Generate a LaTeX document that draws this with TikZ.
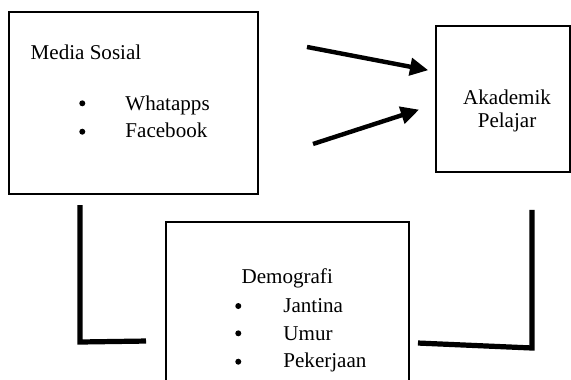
\documentclass[tikz,border=0pt]{standalone}
\usepackage{fontspec}
\setmainfont{Liberation Serif}
\usetikzlibrary{arrows.meta,positioning}

\tikzset{
  box/.style={draw, line width=0.9pt, inner sep=0pt},
  txt/.style={inner sep=0pt, font=\fontsize{10.5}{12}\selectfont},
  dot/.style={circle, fill, inner sep=0pt, minimum size=0.105cm},
  bar/.style={line width=2.6pt},
  push/.style={line width=2.2pt, -{Triangle[length=0.32cm, width=0.3cm]}}
}

\begin{document}
\begin{tikzpicture}
    \clip (0,0) rectangle (10,6.6375);

    % the three boxes
    \node[box, minimum width=4.36cm, minimum height=3.19cm] (media) at (2.338,4.834) {};
    \node[box, minimum width=2.34cm, minimum height=2.56cm] (akademik) at (8.808,4.904) {};
    \node[box, minimum width=4.26cm, minimum height=3.25cm] (demografi) at (5.035,1.125) {};

    % Media Sosial
    \node[txt, anchor=base west] at (0.53,5.59) {Media Sosial};
    \node[dot] at (1.441,4.828) {};
    \node[txt, anchor=base west] at (2.19,4.711) {Whatapps};
    \node[dot] at (1.441,4.331) {};
    \node[txt, anchor=base west] at (2.19,4.228) {Facebook};

    % Akademik Pelajar
    \node[txt, anchor=base] at (8.88,4.816) {Akademik};
    \node[txt, anchor=base] at (8.88,4.396) {Pelajar};

    % Demografi
    \node[txt, anchor=base] at (5.03,1.664) {Demografi};
    \node[dot] at (4.173,1.278) {};
    \node[txt, anchor=base west] at (4.956,1.168) {Jantina};
    \node[dot] at (4.173,0.800) {};
    \node[txt, anchor=base west] at (4.956,0.683) {Umur};
    \node[dot] at (4.173,0.303) {};
    \node[txt, anchor=base west] at (4.956,0.200) {Pekerjaan};

    % arrows into Akademik
    \coordinate (a1) at (5.376,5.815);
    \coordinate (a2) at (5.482,4.116);
    \coordinate (t1) at (7.50,5.408);
    \coordinate (t2) at (7.34,4.718);
    \draw[push] (a1) -- (t1);
    \draw[push] (a2) -- (t2);

    % the two brackets under the boxes
    \coordinate (l1) at (1.401,3.047);
    \coordinate (l2) at (1.401,0.648);
    \coordinate (l3) at (2.557,0.665);
    \draw[bar] (l1) -- (l2) -- (l3);

    \coordinate (r1) at (7.320,0.630);
    \coordinate (r2) at (9.317,0.543);
    \coordinate (r3) at (9.317,2.960);
    \draw[bar] (r1) -- (r2) -- (r3);
\end{tikzpicture}
\end{document}
